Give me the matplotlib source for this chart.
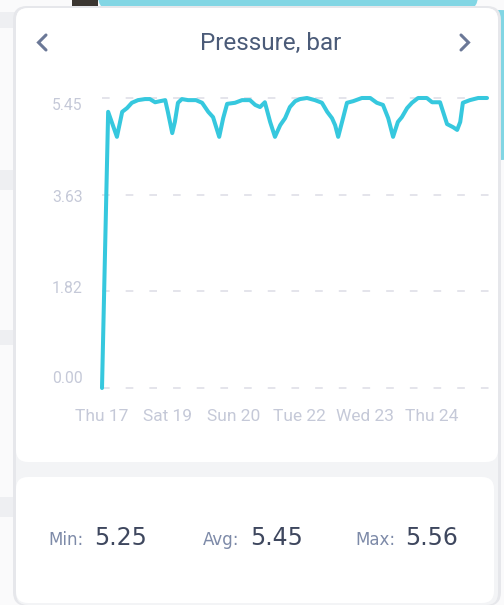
import matplotlib
matplotlib.use("Agg")
import matplotlib.pyplot as plt
from matplotlib.patches import FancyBboxPatch, Rectangle
from matplotlib.lines import Line2D
from matplotlib.transforms import Affine2D, ScaledTranslation

# ---------------- data ----------------
days = [0.00, 0.14, 0.34, 0.46, 0.57, 0.68, 0.82, 0.98, 1.09, 1.21, 1.32, 1.44,
        1.50, 1.60, 1.66, 1.73, 1.82, 1.96, 2.14, 2.28, 2.42, 2.53, 2.67, 2.76,
        2.85, 3.03, 3.19, 3.37, 3.49, 3.60, 3.71, 3.83, 3.94, 4.06, 4.17, 4.28,
        4.40, 4.51, 4.67, 4.85, 5.01, 5.13, 5.24, 5.31, 5.38, 5.49, 5.58, 5.72,
        5.92, 6.11, 6.26, 6.40, 6.52, 6.63, 6.74, 6.83, 6.95, 7.06, 7.20, 7.40,
        7.52, 7.70, 7.77, 7.86, 8.00, 8.09, 8.16, 8.22, 8.38, 8.57, 8.77]
pressure = [0.00, 5.19, 4.72, 5.19, 5.26, 5.36, 5.41, 5.43, 5.43, 5.37, 5.39, 5.41,
            5.19, 4.79, 5.00, 5.36, 5.43, 5.41, 5.41, 5.36, 5.19, 5.09, 4.72, 5.07,
            5.34, 5.36, 5.41, 5.41, 5.32, 5.28, 5.37, 5.00, 4.72, 4.94, 5.07, 5.28,
            5.39, 5.43, 5.45, 5.41, 5.36, 5.19, 5.07, 4.94, 4.72, 5.07, 5.36, 5.39,
            5.45, 5.45, 5.36, 5.32, 5.07, 4.72, 5.00, 5.09, 5.26, 5.36, 5.45, 5.45,
            5.37, 5.37, 5.19, 4.96, 4.90, 4.85, 5.00, 5.36, 5.41, 5.45, 5.45]

x_tick_pos = [0, 1.5, 3, 4.5, 6, 7.5]
x_tick_labels = ["Thu 17", "Sat 19", "Sun 20", "Tue 22", "Wed 23", "Thu 24"]
y_tick_vals = [0.00, 1.82, 3.63, 5.45]
y_tick_labels = ["0.00", "1.82", "3.63", "5.45"]

title = "Pressure, bar"
stat_names = ["Min:", "Avg:", "Max:"]
stat_values = ["5.25", "5.45", "5.56"]

# ---------------- figure ----------------
W, H = 504, 605
fig = plt.figure(figsize=(W / 100, H / 100), dpi=100)
fig.patch.set_facecolor("#fafafb")
pix = Affine2D().scale(1 / W, -1 / H).translate(0, 1) + fig.transFigure

def add(p):
    p.set_transform(pix)
    p.set_zorder(-10)
    fig.patches.append(p)

# background decoration
for y0, y1 in [(12, 28), (170, 190), (330, 345), (497, 517)]:
    add(Rectangle((0, y0), 16, y1 - y0, facecolor="#eeeff2", edgecolor="none"))
add(Rectangle((72, 0), 26, 10, facecolor="#3b3631", edgecolor="none"))
add(FancyBboxPatch((98, -20), 380, 30, boxstyle="round,pad=0,rounding_size=14",
                   facecolor="#82d6e4", edgecolor="none"))
add(FancyBboxPatch((470, 10), 60, 150, boxstyle="round,pad=0,rounding_size=30",
                   facecolor="#82d6e4", edgecolor="none"))

# card shadow + container
add(FancyBboxPatch((13, 6), 488, 600, boxstyle="round,pad=0,rounding_size=14",
                   facecolor="#e6e7eb", edgecolor="none"))
add(FancyBboxPatch((16, 8), 482, 597, boxstyle="round,pad=0,rounding_size=12",
                   facecolor="#f3f4f6", edgecolor="none"))
add(FancyBboxPatch((16, 8), 482, 454, boxstyle="round,pad=0,rounding_size=12",
                   facecolor="white", edgecolor="none"))
add(FancyBboxPatch((16, 477), 478, 126, boxstyle="round,pad=0,rounding_size=12",
                   facecolor="white", edgecolor="none"))

# title + chevrons
fig.text(271 / W, 1 - 43 / H, title, ha="center", va="center",
         fontsize=17.5, color="#4b5b78", family=["Roboto", "DejaVu Sans"])
for pts in ([(46, 35), (38.5, 42.5), (46, 50)], [(461, 35), (468.5, 42.5), (461, 50)]):
    xs = [p[0] for p in pts]
    ys = [p[1] for p in pts]
    fig.lines.append(Line2D(xs, ys, transform=pix, color="#6b7897", lw=2.2,
                            solid_capstyle="round", solid_joinstyle="miter"))

# ---------------- chart ----------------
left, right, top, bottom = 102, 493, 98, 388
ax = fig.add_axes([left / W, 1 - bottom / H, (right - left) / W, (bottom - top) / H])
ax.set_facecolor("none")
ax.plot(days, pressure, color="#36c8de", lw=2.9, solid_joinstyle="round",
        solid_capstyle="round", clip_on=False, zorder=3)
ax.set_xlim(0, (right - left) / 43.9)
ax.set_ylim(0, 5.45)
for s in ax.spines.values():
    s.set_visible(False)
for v in y_tick_vals:
    ax.axhline(v, color="#dcdde6", lw=1.1, linestyle=(0, (5, 10.5)), zorder=1,
               clip_on=False)
ax.set_xticks(x_tick_pos, x_tick_labels)
ax.set_yticks(y_tick_vals, y_tick_labels)
ax.tick_params(axis="both", length=0, colors="#c5c9d8")
ax.tick_params(axis="x", pad=15, labelsize=12.5)
ax.tick_params(axis="y", pad=14, labelsize=11.3)
for lab in ax.get_xticklabels() + ax.get_yticklabels():
    lab.set_family(["Roboto", "DejaVu Sans"])

# the app draws y labels slightly off the grid lines
y_offsets_px = {"0.00": 11, "1.82": 4, "3.63": -1, "5.45": -6}
for lab in ax.get_yticklabels():
    dy = y_offsets_px.get(lab.get_text(), 0)
    lab.set_transform(lab.get_transform() + ScaledTranslation(0, dy / 100, fig.dpi_scale_trans))

# ---------------- stats ----------------
name_x = [48, 203, 355]
val_x = [94, 250, 405]
for nx, vx, n, v in zip(name_x, val_x, stat_names, stat_values):
    fig.text(nx / W, 1 - 545 / H, n, ha="left", va="baseline", fontsize=12,
             color="#7d8aa8", family="DejaVu Sans")
    fig.text(vx / W, 1 - 545 / H, v, ha="left", va="baseline", fontsize=17,
             color="#3e475e", family="DejaVu Sans")

fig.savefig("out.png", dpi=100)
